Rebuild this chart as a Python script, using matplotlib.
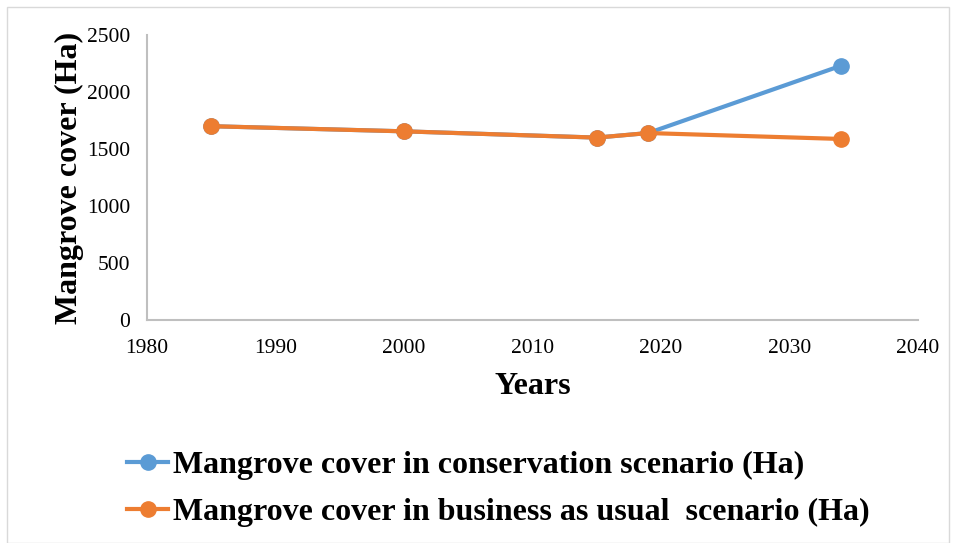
import matplotlib.pyplot as plt
from matplotlib.patches import Rectangle

years = [1985, 2000, 2015, 2019, 2034]
conservation = [1700, 1655, 1600, 1640, 2230]
business_as_usual = [1700, 1655, 1600, 1640, 1588]

blue = '#5b9bd5'
orange = '#ed7d31'

plt.rcParams['font.family'] = ['Liberation Serif', 'DejaVu Serif']

fig = plt.figure(figsize=(9.56, 5.43), dpi=100)
ax = fig.add_axes([147 / 956, 1 - 320 / 543, (918 - 147) / 956, (320 - 35) / 543])

ax.plot(years, conservation, color=blue, lw=3, marker='o', ms=11,
        label='Mangrove cover in conservation scenario (Ha)')
ax.plot(years, business_as_usual, color=orange, lw=3, marker='o', ms=11,
        label='Mangrove cover in business as usual  scenario (Ha)')

ax.set_xlim(1980, 2040)
ax.set_ylim(0, 2500)
ax.set_xticks(range(1980, 2041, 10))
ax.set_yticks(range(0, 2501, 500))
ax.tick_params(length=0, labelsize=15.5)
ax.tick_params(axis='y', pad=12)
ax.tick_params(axis='x', pad=14)
for s in ['top', 'right']:
    ax.spines[s].set_visible(False)
for s in ['left', 'bottom']:
    ax.spines[s].set_color('#bfbfbf')
    ax.spines[s].set_linewidth(1.5)

ax.set_xlabel('Years', fontsize=23, fontweight='bold', labelpad=10)
ax.set_ylabel('Mangrove cover (Ha)', fontsize=23, fontweight='bold', labelpad=2)

leg = fig.legend(loc='upper left', bbox_to_anchor=(98 / 956, 1 - 422 / 543),
                 frameon=False, prop={'size': 23, 'weight': 'bold'},
                 handlelength=1.3, handletextpad=0.15, labelspacing=0.55)

fig.patches.append(Rectangle((7 / 956, 0), 1 - 14 / 956, 1 - 7 / 543,
                             transform=fig.transFigure, fill=False,
                             edgecolor='#d9d9d9', lw=1))

fig.savefig('out.png', dpi=100)
